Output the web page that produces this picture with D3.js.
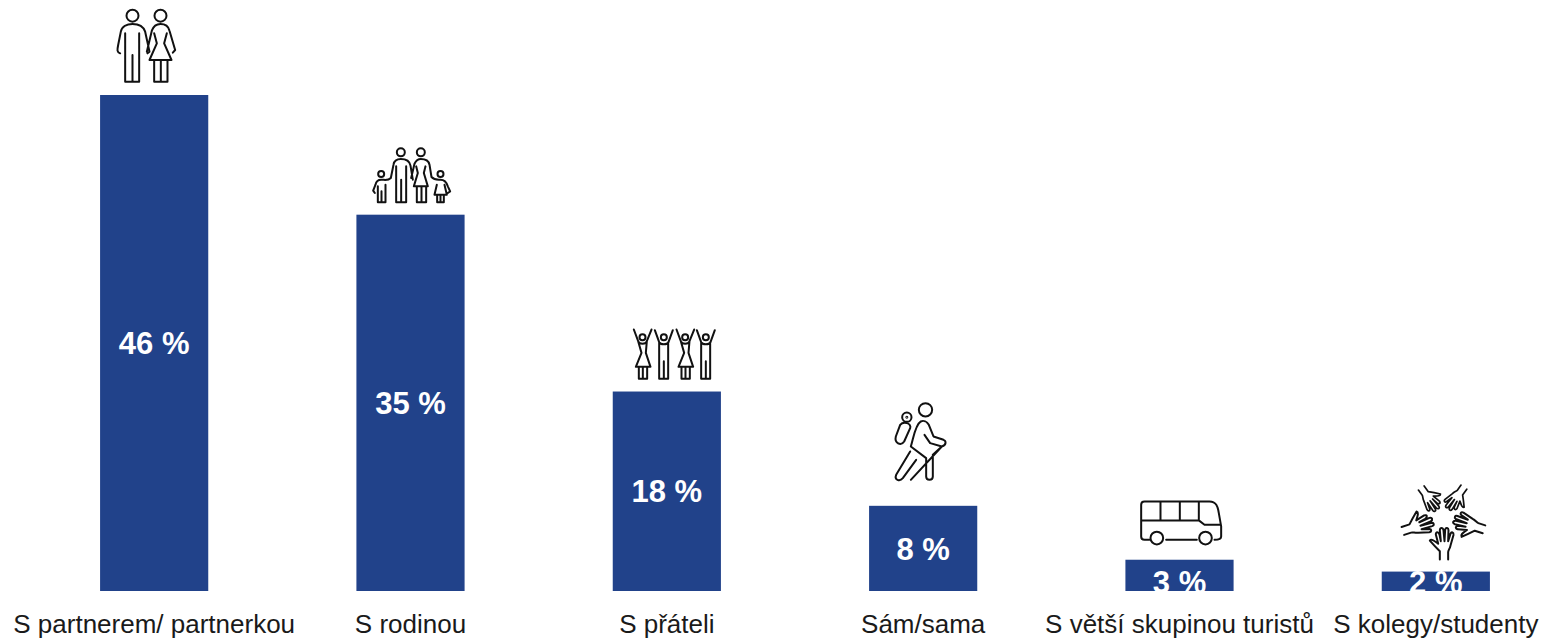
<!DOCTYPE html>
<html>
<head>
<meta charset="utf-8">
<script src="https://cdn.jsdelivr.net/npm/d3@7"></script>
<style>
html, body { margin: 0; padding: 0; background: #fff; }
text { font-family: "Liberation Sans", Arial, sans-serif; }
</style>
</head>
<body>
<div id="plot"></div>
<script>
var categories = ["S partnerem/ partnerkou", "S rodinou", "S přáteli", "Sám/sama", "S větší skupinou turistů", "S kolegy/studenty"];
var values = [46, 34.9, 18.5, 7.9, 2.9, 1.8];
var valueLabels = ["46 %", "35 %", "18 %", "8 %", "3 %", "2 %"];

var width = 1545,
    height = 639,
    baseline = 591,
    barColor = "#21428a";

var xScale = d3.scaleBand()
    .domain(categories)
    .range([26, 1564])
    .paddingInner(0.578)
    .paddingOuter(0.289);

var yScale = d3.scaleLinear()
    .domain([0, 46])
    .range([baseline, 95]);

var svg = d3.select("#plot").append("svg")
    .attr("width", width)
    .attr("height", height)
    .style("display", "block");

svg.selectAll(".bar")
    .data(values)
    .enter().append("rect")
    .attr("class", "bar")
    .attr("x", function(d, i) { return xScale(categories[i]); })
    .attr("y", function(d) { return yScale(d); })
    .attr("width", xScale.bandwidth())
    .attr("height", function(d) { return baseline - yScale(d); })
    .attr("fill", barColor);

// Labels on the short bars sit low and run off the bar
function labelY(d) {
    var mid = (yScale(d) + baseline) / 2;
    return d < 4 ? baseline - 9 : mid;
}

svg.selectAll(".val")
    .data(values)
    .enter().append("text")
    .attr("class", "val")
    .attr("x", function(d, i) { return xScale(categories[i]) + xScale.bandwidth() / 2; })
    .attr("y", labelY)
    .attr("dy", "0.36em")
    .attr("text-anchor", "middle")
    .attr("fill", "#fff")
    .style("font-size", "31px")
    .style("font-weight", "bold")
    .text(function(d, i) { return valueLabels[i]; });

var xAxis = d3.axisBottom(xScale).tickSize(0).tickPadding(0);
var axisG = svg.append("g")
    .attr("transform", "translate(0," + baseline + ")")
    .call(xAxis);
axisG.select(".domain").remove();
axisG.selectAll("text")
    .attr("dy", 0)
    .attr("y", 41.5)
    .attr("fill", "#1a1a1a")
    .style("font-family", "'Liberation Sans', Arial, sans-serif")
    .style("font-size", "26px");

// Icons above the bars, outlines traced at 3x and scaled down
function woman(g, x) {
    g.append("circle").attr("cx", x).attr("cy", 53).attr("r", 9);
    g.append("path").attr("d", "M" + (x-26) + ",30 L" + (x-13) + ",65 C" + (x-10) + ",75 " + (x+10) + ",75 " + (x+13) + ",65 L" + (x+27) + ",30" +
        "M" + (x-13) + ",65 L" + (x-3) + ",100 L" + (x-20) + ",142 L" + (x+24) + ",142 L" + (x+10) + ",100 L" + (x+13) + ",65" +
        "M" + (x-11) + ",142 V178 H" + (x+14) + " V142 M" + (x+1) + ",142 V178");
}
function man(g, x) {
    g.append("circle").attr("cx", x).attr("cy", 53).attr("r", 9);
    g.append("path").attr("d", "M" + (x-27) + ",32 L" + (x-14) + ",68 C" + (x-10) + ",76 " + (x+10) + ",76 " + (x+14) + ",68 L" + (x+27) + ",32" +
        "M" + (x-14) + ",68 V178 H" + (x+13) + " V68 M" + x + ",125 V178");
}

var icons = [
    function(g) {
        g.append("circle").attr("cx", 127).attr("cy", 47).attr("r", 18);
        g.append("circle").attr("cx", 211).attr("cy", 47).attr("r", 18);
        g.append("path").attr("d", "M90,160 C80,156 81,150 84,135 L92,95 C95,80 110,72 127,72 C145,72 160,80 165,95 L178,155 L172,160" +
            "M105,100 V245 H147 V100 M127,165 V245" +
            "M170,155 L185,92 C190,78 200,72 211,72 C225,72 235,80 238,92 L255,150 L248,158" +
            "M192,100 L200,130 L178,180 H244 L222,130 L230,100 M192,180 V245 H232 V180 M212,180 V245");
    },
    function(g) {
        [[65,103,9],[124,38,12],[184,38,12],[243,103,9]].forEach(function(c) {
            g.append("circle").attr("cx", c[0]).attr("cy", c[1]).attr("r", c[2]);
        });
        g.append("path").attr("d", "M46,160 L41,153 L48,135 C50,125 58,120 65,120 C75,120 85,124 94,115 L102,75 C104,62 115,58 124,58 C140,58 150,62 153,78 L160,120" +
            "M55,140 V188 H78 V135 M66,155 V188 M110,80 V188 H140 V80 M125,120 V188" +
            "M155,115 L165,72 C170,62 175,58 184,58 C200,58 208,65 210,75 L216,112 C225,122 235,120 243,120 C255,120 262,130 265,140 L272,155 L265,160" +
            "M170,80 L175,100 L163,140 H205 L193,100 L198,80 M172,140 V188 H200 V140 M186,140 V188" +
            "M232,135 L225,165 H262 L255,135 M233,165 V188 H253 V165 M243,165 V188");
    },
    function(g) {
        woman(g, 68); man(g, 132); woman(g, 196); man(g, 258);
    },
    function(g) {
        g.append("circle").attr("cx", 136).attr("cy", 45).attr("r", 20);
        g.append("circle").attr("cx", 80).attr("cy", 67).attr("r", 14);
        g.append("circle").attr("cx", 80).attr("cy", 67).attr("r", 1.5);
        g.append("path").attr("d", "M60,90 L47,125 C42,145 62,155 72,140 L90,100 C95,85 70,78 60,90" +
            "M122,80 C105,90 100,130 92,155 L138,190 V245 C138,258 158,258 158,245 V180 L185,155 C200,150 198,138 190,135 L160,125 L146,90 C140,80 130,76 122,80" +
            "M133,120 L150,145 L185,155 M185,155 L92,255" +
            "M90,170 L48,240 C42,255 58,262 68,250 L108,195");
    },
    function(g) {
        g.append("circle").attr("cx", 112).attr("cy", 145).attr("r", 19);
        g.append("circle").attr("cx", 258).attr("cy", 145).attr("r", 19);
        g.append("path").attr("d", "M90,150 H75 C68,150 65,145 65,140 V45 C65,38 70,35 75,35 H270 C290,35 295,50 298,70 L305,110 V140 C305,148 298,150 285,150" +
            "M140,150 H232 M65,92 H238 L255,105 H303 M123,35 V92 M181,35 V92 M238,35 V92");
    },
    function(g) {
        // one hand, turned five times round the middle, the top two a bit shorter
        [[0, 1], [72, 1], [144, 0.85], [216, 0.85], [288, 1]].forEach(function(a) {
            g.append("path")
                .attr("transform", "translate(190 112) rotate(" + a[0] + ") scale(" + a[1] + ") translate(-190 -112)")
                .attr("d", "M180,240 V215 C170,205 158,192 150,183 C155,176 166,186 175,192 L168,165 C168,155 176,156 179,165 L183,185 L180,152 C181,143 189,143 191,152 L194,185 L196,150 C198,143 206,144 206,152 L205,185 L212,162 C215,156 222,158 221,166 L212,198 C210,208 205,212 205,218 V240");
        });
    }
];

svg.selectAll(".icon")
    .data(values)
    .enter().append("g")
    .attr("class", "icon")
    .attr("fill", "none")
    .attr("stroke", "#111")
    .attr("stroke-width", 6)
    .attr("stroke-linejoin", "round")
    .attr("stroke-linecap", "round")
    .attr("transform", function(d, i) {
        var off = [[-64, -95], [-51, -75], [-47, -72], [-43, -111], [-60, -70], [-56, -92]][i];
        var cx = xScale(categories[i]) + xScale.bandwidth() / 2;
        return "translate(" + (cx + off[0]) + "," + (yScale(d) + off[1]) + ") scale(0.3333)";
    })
    .each(function(d, i) { icons[i](d3.select(this)); });
</script>
</body>
</html>
